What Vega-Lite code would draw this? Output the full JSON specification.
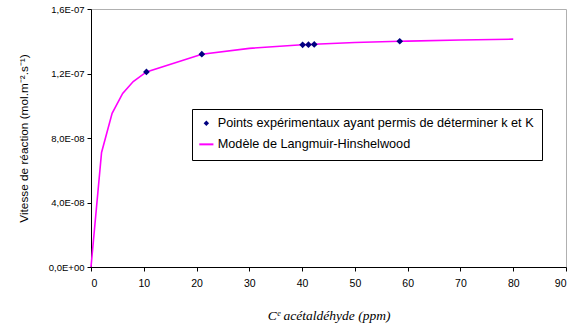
{
  "$schema": "https://vega.github.io/schema/vega-lite/v6.json",
  "width": 475,
  "height": 258,
  "autosize": {"type": "none"},
  "padding": {"left": 91, "top": 9, "right": 11, "bottom": 64},
  "background": "white",
  "config": {
    "view": {"stroke": "#b0b0b0", "strokeWidth": 1},
    "font": "Liberation Sans"
  },
  "datasets": {
    "model": [
      {"C": 0, "v": 0},
      {"C": 2, "v": 7.10e-8},
      {"C": 4, "v": 9.53e-8},
      {"C": 6, "v": 1.076e-7},
      {"C": 8, "v": 1.150e-7},
      {"C": 10.5, "v": 1.210e-7},
      {"C": 21, "v": 1.319e-7},
      {"C": 30, "v": 1.356e-7},
      {"C": 40, "v": 1.378e-7},
      {"C": 50, "v": 1.392e-7},
      {"C": 58.5, "v": 1.400e-7},
      {"C": 60, "v": 1.401e-7},
      {"C": 70, "v": 1.408e-7},
      {"C": 80, "v": 1.413e-7}
    ],
    "points": [
      {"C": 10.5, "v": 1.210e-7},
      {"C": 21, "v": 1.320e-7},
      {"C": 40.1, "v": 1.378e-7},
      {"C": 41.2, "v": 1.379e-7},
      {"C": 42.3, "v": 1.380e-7},
      {"C": 58.5, "v": 1.400e-7}
    ]
  },
  "encoding": {
    "x": {
      "field": "C", "type": "quantitative",
      "scale": {"domain": [0, 90], "nice": false},
      "axis": {
        "values": [0, 10, 20, 30, 40, 50, 60, 70, 80, 90],
        "grid": false, "domainColor": "black", "tickColor": "black",
        "tickSize": 4, "labelFontSize": 10.5, "labelColor": "black", "labelPadding": 7,
        "title": "Cᵉ acétaldéhyde (ppm)",
        "titleFont": "Liberation Serif", "titleFontStyle": "italic", "titleFontWeight": "normal",
        "titleFontSize": 13.5, "titleColor": "black", "titlePadding": 20
      }
    },
    "y": {
      "field": "v", "type": "quantitative",
      "scale": {"domain": [0, 1.6e-7], "nice": false},
      "axis": {
        "values": [0, 4e-8, 8e-8, 1.2e-7, 1.6e-7],
        "labelExpr": "['0,0E+00','4,0E-08','8,0E-08','1,2E-07','1,6E-07'][round(datum.value/4e-8)]",
        "grid": false, "domainColor": "black", "tickColor": "black",
        "tickSize": 4, "labelFontSize": 9.5, "labelColor": "black", "labelPadding": 3,
        "title": "Vitesse de réaction (mol.m⁻².s⁻¹)",
        "titleFontSize": 11.8, "titleFontWeight": "normal", "titleColor": "black", "titlePadding": 19
      }
    },
    "color": {
      "datum": "s", "type": "nominal"
    }
  },
  "layer": [
    {
      "data": {"name": "model"},
      "mark": {"type": "line", "strokeWidth": 1.6},
      "encoding": {
        "color": {
          "datum": "Modèle de Langmuir-Hinshelwood", "type": "nominal",
          "scale": {
            "domain": ["Points expérimentaux ayant permis de déterminer k et K", "Modèle de Langmuir-Hinshelwood"],
            "range": ["#000080", "#ff00ff"]
          },
          "legend": {
            "title": null,
            "orient": "none",
            "legendX": 101,
            "legendY": 100,
            "padding": 8,
            "strokeColor": "black",
            "fillColor": "white",
            "cornerRadius": 0,
            "labelFontSize": 12.7,
            "labelColor": "black",
            "labelLimit": 400,
            "labelOffset": 5,
            "rowPadding": 7,
            "symbolSize": 150,
            "symbolStrokeWidth": 2,
            "encode": {
              "symbols": {
                "update": {
                  "shape": {"signal": "datum.value === 'Modèle de Langmuir-Hinshelwood' ? 'stroke' : 'diamond'"},
                  "size": {"signal": "datum.value === 'Modèle de Langmuir-Hinshelwood' ? 200 : 30"},
                  "fill": {"signal": "datum.value === 'Modèle de Langmuir-Hinshelwood' ? 'transparent' : '#000080'"},
                  "stroke": {"signal": "datum.value === 'Modèle de Langmuir-Hinshelwood' ? '#ff00ff' : '#000080'"},
                  "strokeWidth": {"signal": "datum.value === 'Modèle de Langmuir-Hinshelwood' ? 2 : 0"}
                }
              }
            }
          }
        }
      }
    },
    {
      "data": {"name": "points"},
      "mark": {"type": "point", "shape": "diamond", "filled": true, "size": 45, "opacity": 1},
      "encoding": {
        "color": {"datum": "Points expérimentaux ayant permis de déterminer k et K", "type": "nominal"}
      }
    }
  ]
}
